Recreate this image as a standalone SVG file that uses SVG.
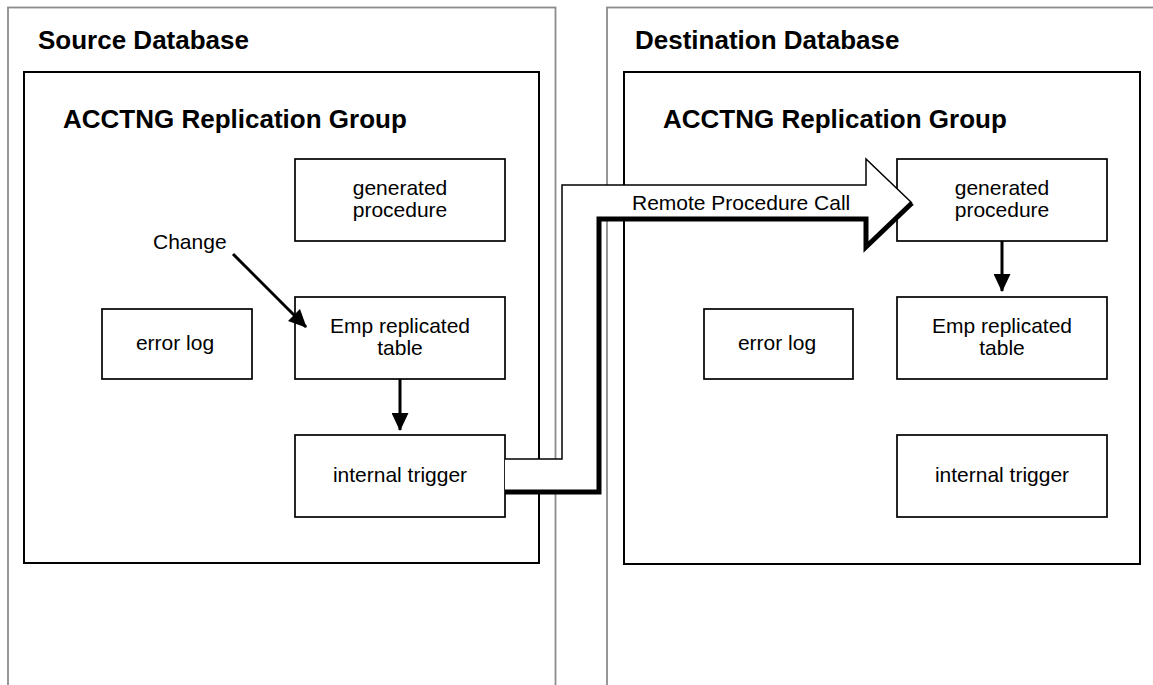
<svg xmlns="http://www.w3.org/2000/svg" width="1153" height="685" viewBox="0 0 1153 685">
<style>
.outer{fill:#fff;stroke:#8c8c8c;stroke-width:1.8}
.inner{fill:none;stroke:#000;stroke-width:2}
.box{fill:#fff;stroke:#000;stroke-width:1.7}
.title{font-family:"Liberation Sans",Arial,sans-serif;font-weight:bold;font-size:26px;fill:#000}
.lbl{font-family:"Liberation Sans",Arial,sans-serif;font-size:21px;fill:#000}
.c{text-anchor:middle}
.conn{fill:none;stroke:#000;stroke-width:3}
</style>
<defs>
<marker id="ah" markerUnits="userSpaceOnUse" markerWidth="18" markerHeight="17" refX="17" refY="8.5" orient="auto" viewBox="0 0 18 17">
<path d="M0,0 L18,8.5 L0,17 z" fill="#000"/>
</marker>
</defs>
<rect width="1153" height="685" fill="#fff"/>
<g id="source-db">
<rect class="outer" x="8" y="7.5" width="547.5" height="700"/>
<text class="title" x="38" y="49">Source Database</text>
</g>
<g id="dest-db">
<rect class="outer" x="607" y="7.5" width="560" height="700"/>
<text class="title" x="635" y="49">Destination Database</text>
</g>
<g id="source-group">
<rect class="inner" x="24" y="72" width="515" height="491"/>
<text class="title" x="63" y="128">ACCTNG Replication Group</text>
</g>
<g id="dest-group">
<rect class="inner" x="624" y="72" width="516" height="492"/>
<text class="title" x="663" y="128">ACCTNG Replication Group</text>
</g>
<g id="src-genproc">
<rect class="box" x="295" y="159" width="210" height="82"/>
<text class="lbl c" x="400" y="195">generated</text>
<text class="lbl c" x="400" y="217">procedure</text>
</g>
<g id="src-errorlog">
<rect class="box" x="102" y="309" width="150" height="70"/>
<text class="lbl c" x="175" y="350">error log</text>
</g>
<g id="src-emp">
<rect class="box" x="295" y="297" width="210" height="82"/>
<text class="lbl c" x="400" y="333">Emp replicated</text>
<text class="lbl c" x="400" y="355">table</text>
</g>
<g id="src-trigger">
<rect class="box" x="295" y="435" width="210" height="82"/>
<text class="lbl c" x="400" y="482">internal trigger</text>
</g>
<g id="dst-genproc">
<rect class="box" x="897" y="159" width="210" height="82"/>
<text class="lbl c" x="1002" y="195">generated</text>
<text class="lbl c" x="1002" y="217">procedure</text>
</g>
<g id="dst-errorlog">
<rect class="box" x="704" y="309" width="149" height="70"/>
<text class="lbl c" x="777" y="350">error log</text>
</g>
<g id="dst-emp">
<rect class="box" x="897" y="297" width="210" height="82"/>
<text class="lbl c" x="1002" y="333">Emp replicated</text>
<text class="lbl c" x="1002" y="355">table</text>
</g>
<g id="dst-trigger">
<rect class="box" x="897" y="435" width="210" height="82"/>
<text class="lbl c" x="1002" y="482">internal trigger</text>
</g>
<g id="connectors">
<text class="lbl" x="153" y="249">Change</text>
<line class="conn" x1="233" y1="254" x2="306" y2="327" marker-end="url(#ah)"/>
<line class="conn" x1="400" y1="379" x2="400" y2="430" marker-end="url(#ah)"/>
<line class="conn" x1="1002" y1="241" x2="1002" y2="291" marker-end="url(#ah)"/>
<g id="rpc-arrow">
<polygon points="505,459 562,459 562,185 866,185 866,159 912,203 866,247 866,219 599,219 599,492 505,492" fill="#fff" stroke="none"/>
<polyline points="505,459 562,459 562,185 866,185 866,159 912,203" fill="none" stroke="#000" stroke-width="1.5"/>
<polyline points="505,492 599,492 599,219 866,219 866,247 912,203" fill="none" stroke="#000" stroke-width="5" stroke-linejoin="miter"/>
<text class="lbl" x="632" y="210">Remote Procedure Call</text>
</g>
</g>
</svg>
